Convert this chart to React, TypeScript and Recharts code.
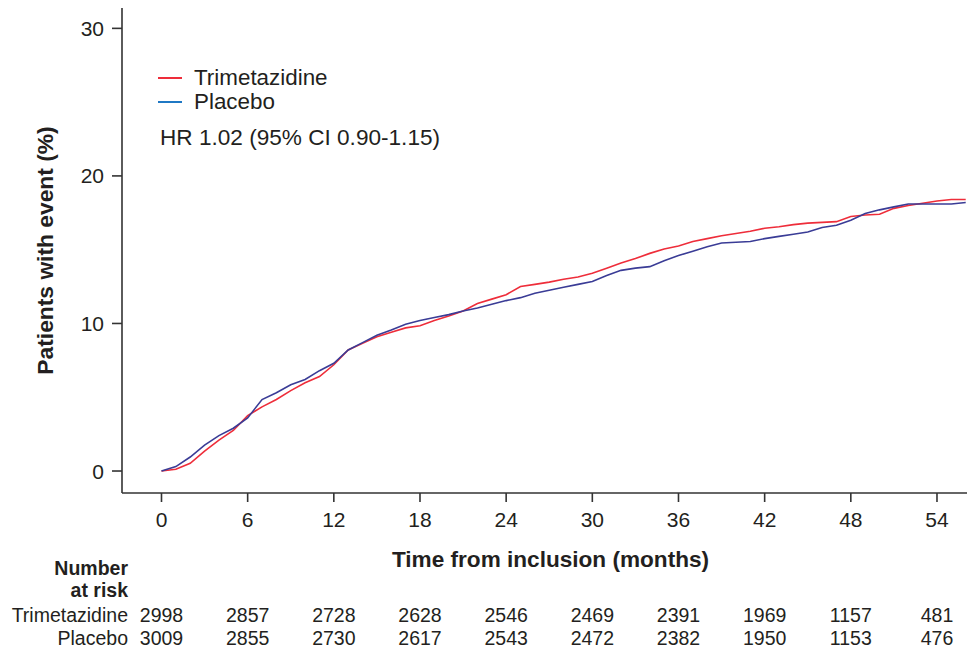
import React from 'react';
import { LineChart, Line, XAxis, YAxis, Legend } from 'recharts';

const months = [0,1,2,3,4,5,6,7,8,9,10,11,12,13,14,15,16,17,18,19,20,21,22,23,24,25,26,27,28,29,30,31,32,33,34,35,36,37,38,39,40,41,42,43,44,45,46,47,48,49,50,51,52,53,54,55,56];
const trimetazidine = [0,0.12,0.52,1.35,2.1,2.75,3.75,4.35,4.85,5.45,5.98,6.4,7.2,8.2,8.65,9.1,9.4,9.7,9.85,10.2,10.5,10.85,11.35,11.65,11.95,12.5,12.65,12.8,13.0,13.15,13.4,13.75,14.1,14.4,14.75,15.05,15.25,15.55,15.75,15.95,16.1,16.25,16.45,16.55,16.7,16.8,16.85,16.9,17.25,17.35,17.4,17.8,18.0,18.15,18.3,18.4,18.4];
const placebo = [0,0.3,0.95,1.75,2.4,2.9,3.6,4.84,5.3,5.85,6.2,6.8,7.3,8.2,8.7,9.2,9.55,9.95,10.2,10.4,10.6,10.85,11.05,11.3,11.55,11.75,12.05,12.25,12.45,12.65,12.85,13.25,13.6,13.75,13.85,14.25,14.6,14.9,15.2,15.45,15.5,15.55,15.75,15.9,16.05,16.2,16.5,16.65,17.0,17.45,17.7,17.9,18.1,18.1,18.1,18.1,18.2];

const xTicks = [0, 6, 12, 18, 24, 30, 36, 42, 48, 54];
const yTicks = [0, 10, 20, 30];
const riskTrimetazidine = [2998, 2857, 2728, 2628, 2546, 2469, 2391, 1969, 1157, 481];
const riskPlacebo = [3009, 2855, 2730, 2617, 2543, 2472, 2382, 1950, 1153, 476];

const seriesNames = ['Trimetazidine', 'Placebo'];
const hrText = 'HR 1.02 (95% CI 0.90-1.15)';

const data = months.map((m, i) => ({ month: m, tri: trimetazidine[i], pla: placebo[i] }));

const FONT = '"Liberation Sans", Arial, Helvetica, sans-serif';
const TEXT = '#231f20';
const AXIS = '#333333';
const RED = '#ee2d3a';
const NAVY = '#3a3c96';
const LEGEND_COLORS = ['#ee2d3a', '#1f78c4'];

const XTick = (props: any) => {
  const { x, y, payload } = props;
  const idx = xTicks.indexOf(payload.value);
  return (
    <g fontFamily={FONT} fill={TEXT}>
      <text x={x} y={y + 14.5} textAnchor="middle" fontSize={21}>{payload.value}</text>
      <text x={x} y={y + 109.5} textAnchor="middle" fontSize={19.5}>{riskTrimetazidine[idx]}</text>
      <text x={x} y={y + 133} textAnchor="middle" fontSize={19.5}>{riskPlacebo[idx]}</text>
    </g>
  );
};

const YTick = (props: any) => {
  const { x, y, payload } = props;
  return (
    <text x={x} y={y + 7.5} textAnchor="end" fontSize={21} fontFamily={FONT} fill={TEXT}>{payload.value}</text>
  );
};

const XLabel = (props: any) => {
  const vb = props.viewBox || { x: 122, y: 493, width: 845 };
  return (
    <g fontFamily={FONT} fill={TEXT}>
      <text x={vb.x + vb.width / 2 + 6} y={vb.y + 74} textAnchor="middle" fontSize={22.6} fontWeight="bold">Time from inclusion (months)</text>
      <text x={vb.x + 6} y={vb.y + 82} textAnchor="end" fontSize={19.5} fontWeight="bold">Number</text>
      <text x={vb.x + 6} y={vb.y + 104} textAnchor="end" fontSize={19.5} fontWeight="bold">at risk</text>
      <text x={vb.x + 6} y={vb.y + 128.5} textAnchor="end" fontSize={19.5}>{seriesNames[0]}</text>
      <text x={vb.x + 6} y={vb.y + 152} textAnchor="end" fontSize={19.5}>{seriesNames[1]}</text>
    </g>
  );
};

const YLabel = (props: any) => {
  const vb = props.viewBox || { x: 0, y: 8, width: 122, height: 485 };
  const cy = vb.y + vb.height / 2 + 0;
  return (
    <text x={45} y={cy} transform={`rotate(-90 45 ${cy})`} textAnchor="middle" dominantBaseline="central" fontSize={22.8} fontWeight="bold" fontFamily={FONT} fill={TEXT}>
      Patients with event (%)
    </text>
  );
};

const LegendContent = () => (
  <div style={{ position: 'relative', width: 330, height: 90, fontFamily: FONT, color: TEXT }}>
    {seriesNames.map((n, i) => (
      <div key={n} style={{ position: 'absolute', left: 0, top: i * 24.3, height: 24, display: 'flex', alignItems: 'center', whiteSpace: 'nowrap' }}>
        <span style={{ display: 'inline-block', width: 24, height: 2, background: LEGEND_COLORS[i], marginRight: 12 }} />
        <span style={{ fontSize: 22.4 }}>{n}</span>
      </div>
    ))}
    <div style={{ position: 'absolute', left: 2, top: 60, height: 24, display: 'flex', alignItems: 'center', whiteSpace: 'nowrap', fontSize: 22.6 }}>
      {hrText}
    </div>
  </div>
);

export default function App() {
  return (
    <div style={{ position: 'absolute', left: 0, top: 0, width: 967, height: 654, background: '#fff' }}>
      <LineChart width={967} height={654} data={data} margin={{ top: 8, right: 0, bottom: 0, left: 0 }}>
        <XAxis
          dataKey="month"
          type="number"
          domain={[-2.75, 56.09]}
          ticks={xTicks}
          allowDataOverflow
          height={161}
          stroke={AXIS}
          strokeWidth={1.6}
          tickSize={9}
          tickMargin={10}
          tick={<XTick />}
          tickLine={{ stroke: AXIS, strokeWidth: 1.6 }}
          label={<XLabel />}
          interval={0}
        />
        <YAxis
          type="number"
          domain={[-1.49, 31.38]}
          ticks={yTicks}
          allowDataOverflow
          width={122}
          stroke={AXIS}
          strokeWidth={1.6}
          tickSize={10}
          tickMargin={8}
          tick={<YTick />}
          tickLine={{ stroke: AXIS, strokeWidth: 1.6 }}
          label={<YLabel />}
          interval={0}
        />
        <Legend
          layout="vertical"
          align="center"
          verticalAlign="middle"
          content={<LegendContent />}
          wrapperStyle={{ left: 158, top: 65.5, width: 330, height: 90 }}
        />
        <Line type="linear" dataKey="tri" name={seriesNames[0]} stroke={RED} strokeWidth={1.6} dot={false} isAnimationActive={false} />
        <Line type="linear" dataKey="pla" name={seriesNames[1]} stroke={NAVY} strokeWidth={1.6} dot={false} isAnimationActive={false} />
      </LineChart>
    </div>
  );
}
